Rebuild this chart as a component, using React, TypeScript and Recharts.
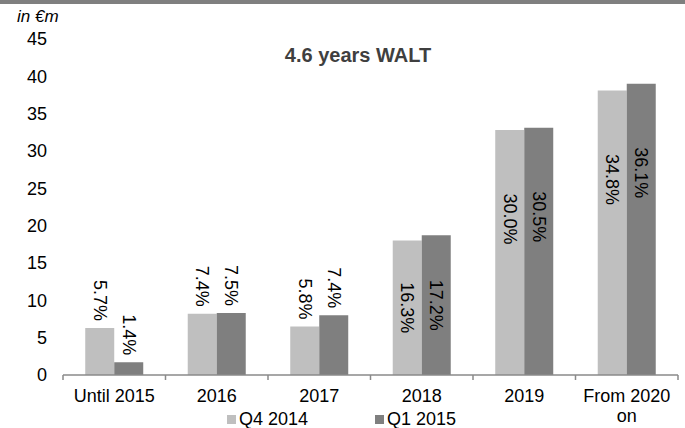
import React from 'react';
import { BarChart, Bar, XAxis, YAxis, LabelList, Customized } from 'recharts';

const categories = ['Until 2015', '2016', '2017', '2018', '2019', 'From 2020 on'];
const seriesNames = ['Q4 2014', 'Q1 2015'];
const seriesColors = ['#bfbfbf', '#7f7f7f'];
const q4Values = [6.3, 8.2, 6.5, 18.0, 32.8, 38.1];
const q1Values = [1.7, 8.3, 8.0, 18.7, 33.1, 39.0];
const q4Shares = ['5.7%', '7.4%', '5.8%', '16.3%', '30.0%', '34.8%'];
const q1Shares = ['1.4%', '7.5%', '7.4%', '17.2%', '30.5%', '36.1%'];
const yTicks = [0, 5, 10, 15, 20, 25, 30, 35, 40, 45];

const data = categories.map((name, i) => ({ name, q4: q4Values[i], q1: q1Values[i] }));

const W = 685;
const H = 428;
const FONT = '"Liberation Sans", Arial, sans-serif';
const margin = { top: 39, right: 7, bottom: 23, left: 0 };
const yAxisWidth = 63;
const halfBand = (W - yAxisWidth - margin.right) / categories.length / 2;

const makeLabel = (shares: string[]) => (props: any) => {
  const { x, y, width, height, index } = props;
  const cx = x + width / 2;
  const text = shares[index];
  let cy: number;
  let anchor: 'start' | 'middle' | 'end';
  if (height < 80) {
    cy = y - 7;
    anchor = 'end';
  } else {
    cy = y + Math.min(height / 2, 89);
    anchor = 'middle';
  }
  return (
    <text
      x={cx}
      y={cy}
      transform={`rotate(90, ${cx}, ${cy})`}
      textAnchor={anchor}
      dominantBaseline="central"
      fontSize={18}
      fontFamily={FONT}
      fill="#000"
    >
      {text}
    </text>
  );
};

const XTick = (props: any) => {
  const { x, y, payload, index } = props;
  const label: string = payload.value;
  let lines = [label];
  if (label.length > 10) {
    const cut = label.lastIndexOf(' ');
    lines = [label.slice(0, cut), label.slice(cut + 1)];
  }
  return (
    <g>
      <line x1={x - halfBand} x2={x - halfBand} y1={y} y2={y + 5} stroke="#8a8a8a" strokeWidth={1.5} />
      {index === categories.length - 1 && (
        <line x1={x + halfBand} x2={x + halfBand} y1={y} y2={y + 5} stroke="#8a8a8a" strokeWidth={1.5} />
      )}
      <text x={x} y={y + 27} textAnchor="middle" fontSize={18} fontFamily={FONT} fill="#000">
        {lines.map((l, i) => (
          <tspan key={i} x={x} dy={i === 0 ? 0 : 20}>
            {l}
          </tspan>
        ))}
      </text>
    </g>
  );
};

const Decorations = () => (
  <g>
    <rect x={0} y={0} width={W} height={4} fill="#7f7f7f" />
    <text x={17} y={22} fontSize={17} fontStyle="italic" fontFamily={FONT} fill="#000">
      in €m
    </text>
    <text x={358} y={62} textAnchor="middle" fontSize={20} fontWeight="bold" fontFamily={FONT} fill="#3f3f3f">
      4.6 years WALT
    </text>
    {seriesNames.map((name, i) => (
      <g key={name}>
        <rect x={227 + i * 148} y={415} width={9} height={9} fill={seriesColors[i]} />
        <text x={239 + i * 148} y={425} fontSize={18} fontFamily={FONT} fill="#000">
          {name}
        </text>
      </g>
    ))}
  </g>
);

export default function App() {
  return (
    <div style={{ position: 'absolute', left: 0, top: 0, width: W, height: H, background: '#fff' }}>
      <BarChart width={W} height={H} data={data} margin={margin} barCategoryGap="21.7%" barGap={0}>
        <Customized component={Decorations} />
        <XAxis
          dataKey="name"
          height={30}
          axisLine={{ stroke: '#8a8a8a', strokeWidth: 1.5 }}
          tickLine={false}
          tickSize={0}
          tickMargin={0}
          interval={0}
          tick={<XTick />}
        />
        <YAxis
          width={yAxisWidth}
          domain={[0, 45]}
          ticks={yTicks}
          interval={0}
          axisLine={false}
          tickLine={false}
          tickSize={0}
          tickMargin={16}
          tick={{ fontSize: 18, fontFamily: FONT, fill: '#000' }}
        />
        <Bar dataKey="q4" name={seriesNames[0]} fill={seriesColors[0]} isAnimationActive={false}>
          <LabelList dataKey="q4" content={makeLabel(q4Shares)} />
        </Bar>
        <Bar dataKey="q1" name={seriesNames[1]} fill={seriesColors[1]} isAnimationActive={false}>
          <LabelList dataKey="q1" content={makeLabel(q1Shares)} />
        </Bar>
      </BarChart>
    </div>
  );
}
